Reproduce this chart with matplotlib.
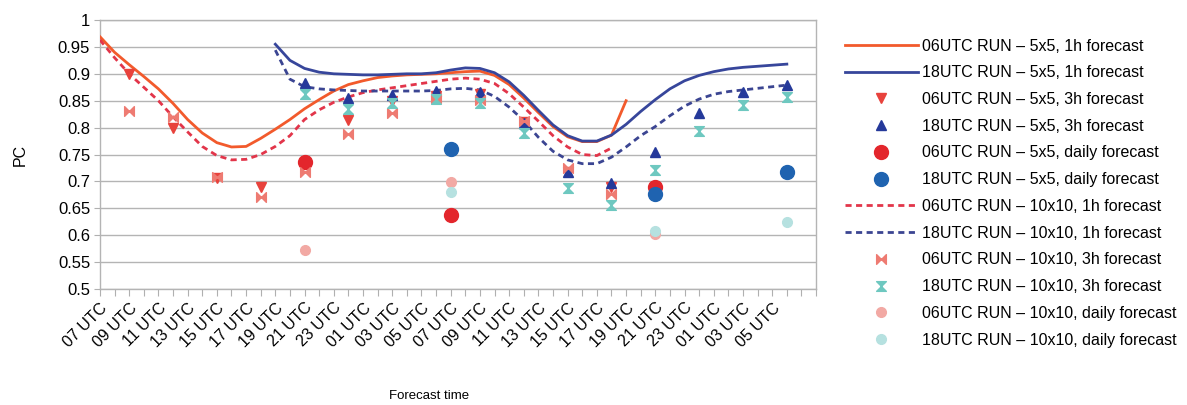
import matplotlib
matplotlib.use("Agg")
import matplotlib.pyplot as plt
from matplotlib.path import Path
import numpy as np

# Hourly forecast-time categories, starting at 07 UTC
n_cat = 48
hours = [(7 + i) % 24 for i in range(n_cat)]
tick_labels = [f"{h:02d} UTC" if i % 2 == 0 else "" for i, h in enumerate(hours)]

# 1h forecasts (PC per hour)
run06_5x5_1h_idx = list(range(0, 37))
run06_5x5_1h = [0.969, 0.940, 0.917, 0.895, 0.872, 0.845, 0.815, 0.790, 0.772, 0.764,
                0.765, 0.780, 0.797, 0.815, 0.835, 0.852, 0.868, 0.880, 0.887, 0.893,
                0.896, 0.898, 0.899, 0.900, 0.902, 0.904, 0.905, 0.897, 0.880, 0.855,
                0.828, 0.802, 0.783, 0.774, 0.774, 0.786, 0.850]

run18_5x5_1h_idx = list(range(12, 48))
run18_5x5_1h = [0.955, 0.925, 0.910, 0.903, 0.900, 0.899, 0.898, 0.898, 0.899, 0.900,
                0.900, 0.902, 0.907, 0.911, 0.910, 0.902, 0.885, 0.860, 0.832, 0.805,
                0.785, 0.775, 0.775, 0.786, 0.806, 0.830, 0.852, 0.872, 0.887, 0.897,
                0.904, 0.909, 0.912, 0.914, 0.916, 0.918]

run06_10x10_1h_idx = list(range(0, 36))
run06_10x10_1h = [0.963, 0.930, 0.900, 0.875, 0.850, 0.820, 0.792, 0.765, 0.748, 0.740,
                  0.741, 0.750, 0.765, 0.785, 0.815, 0.833, 0.847, 0.857, 0.865, 0.870,
                  0.874, 0.878, 0.882, 0.886, 0.890, 0.892, 0.890, 0.882, 0.863, 0.838,
                  0.812, 0.785, 0.764, 0.750, 0.748, 0.762]

run18_10x10_1h_idx = list(range(12, 48))
run18_10x10_1h = [0.944, 0.890, 0.876, 0.872, 0.870, 0.869, 0.868, 0.868, 0.868, 0.868,
                  0.868, 0.869, 0.872, 0.873, 0.870, 0.858, 0.838, 0.813, 0.782, 0.756,
                  0.740, 0.733, 0.733, 0.745, 0.764, 0.785, 0.802, 0.822, 0.840, 0.853,
                  0.862, 0.867, 0.870, 0.873, 0.876, 0.879]

# 3h forecasts
run06_3h_idx = [2, 5, 8, 11, 14, 17, 20, 23, 26, 29, 32, 35]
run06_5x5_3h = [0.900, 0.800, 0.706, 0.689, 0.735, 0.814, 0.850, 0.858, 0.862, 0.810, 0.718, 0.690]
run06_10x10_3h = [0.831, 0.820, 0.709, 0.671, 0.718, 0.788, 0.827, 0.855, 0.852, 0.812, 0.725, 0.677]

run18_3h_idx = [14, 17, 20, 23, 26, 29, 32, 35, 38, 41, 44, 47]
run18_5x5_3h = [0.882, 0.855, 0.861, 0.868, 0.867, 0.808, 0.717, 0.697, 0.755, 0.828, 0.867, 0.879]
run18_10x10_3h = [0.862, 0.834, 0.845, 0.853, 0.846, 0.790, 0.687, 0.656, 0.721, 0.793, 0.842, 0.856]

# Daily forecasts
run06_daily_idx = [14, 24, 38]
run06_5x5_daily = [0.737, 0.638, 0.689]
run06_10x10_daily = [0.572, 0.698, 0.603]

run18_daily_idx = [24, 38, 47]
run18_5x5_daily = [0.761, 0.676, 0.718]
run18_10x10_daily = [0.681, 0.607, 0.625]

# Custom markers: horizontal bow-tie and vertical hourglass
bowtie = Path([(-1, 1), (-1, -1), (0, 0), (-1, 1), (1, 1), (1, -1), (0, 0), (1, 1)],
              [Path.MOVETO, Path.LINETO, Path.LINETO, Path.CLOSEPOLY,
               Path.MOVETO, Path.LINETO, Path.LINETO, Path.CLOSEPOLY])
hourglass = Path([(-1, 1), (1, 1), (0, 0), (-1, 1), (-1, -1), (1, -1), (0, 0), (-1, -1)],
                 [Path.MOVETO, Path.LINETO, Path.LINETO, Path.CLOSEPOLY,
                  Path.MOVETO, Path.LINETO, Path.LINETO, Path.CLOSEPOLY])

plt.rcParams['font.family'] = ['Liberation Sans', 'DejaVu Sans']

fig = plt.figure(figsize=(11.87, 4.05), dpi=100)
ax = fig.add_axes([0.0842, 0.2864, 0.6033, 0.6642])

c_orange = '#f25a2c'
c_navy = '#37469b'
c_red_dash = '#e2354a'
c_navy_dash = '#3b4592'

ax.plot(run06_5x5_1h_idx, run06_5x5_1h, color=c_orange, lw=2.0, zorder=3,
        label='06UTC RUN – 5x5, 1h forecast')
ax.plot(run18_5x5_1h_idx, run18_5x5_1h, color=c_navy, lw=2.0, zorder=3,
        label='18UTC RUN – 5x5, 1h forecast')
ax.plot(run06_3h_idx, run06_5x5_3h, ls='none', marker='v', ms=7, color='#e8423c',
        zorder=4, label='06UTC RUN – 5x5, 3h forecast')
ax.plot(run18_3h_idx, run18_5x5_3h, ls='none', marker='^', ms=7, color='#25399a',
        zorder=4, label='18UTC RUN – 5x5, 3h forecast')
ax.plot(run06_daily_idx, run06_5x5_daily, ls='none', marker='o', ms=10, color='#e3262c',
        zorder=4, label='06UTC RUN – 5x5, daily forecast')
ax.plot(run18_daily_idx, run18_5x5_daily, ls='none', marker='o', ms=10, color='#1f63b0',
        zorder=4, label='18UTC RUN – 5x5, daily forecast')
ax.plot(run06_10x10_1h_idx, run06_10x10_1h, color=c_red_dash, lw=2.0, ls=(0, (2.2, 1.6)),
        zorder=3, label='06UTC RUN – 10x10, 1h forecast')
ax.plot(run18_10x10_1h_idx, run18_10x10_1h, color=c_navy_dash, lw=2.0, ls=(0, (2.2, 1.6)),
        zorder=3, label='18UTC RUN – 10x10, 1h forecast')
ax.plot(run06_3h_idx, run06_10x10_3h, ls='none', marker=bowtie, ms=7, color='#ee7b72',
        zorder=4, label='06UTC RUN – 10x10, 3h forecast')
ax.plot(run18_3h_idx, run18_10x10_3h, ls='none', marker=hourglass, ms=7, color='#6ec8c0',
        zorder=4, label='18UTC RUN – 10x10, 3h forecast')
ax.plot(run06_daily_idx, run06_10x10_daily, ls='none', marker='o', ms=7, color='#f2a9a4',
        zorder=4, label='06UTC RUN – 10x10, daily forecast')
ax.plot(run18_daily_idx, run18_10x10_daily, ls='none', marker='o', ms=7, color='#b6e1e0',
        zorder=4, label='18UTC RUN – 10x10, daily forecast')

ax.set_xlim(0, 49)
ax.set_ylim(0.5, 1.0)
ax.set_yticks(np.arange(0.5, 1.0001, 0.05))
ax.set_yticklabels([f"{v:g}" for v in np.round(np.arange(0.5, 1.0001, 0.05), 2)], fontsize=12)
ax.set_xticks(range(0, 50))
ax.set_xticklabels(tick_labels + ["", ""], rotation=45, ha='right', va='top',
                   rotation_mode='anchor', fontsize=11.5)
ax.tick_params(axis='x', length=5, color='#b0b0b0', pad=3)
ax.tick_params(axis='y', length=4, color='#b0b0b0', pad=3)

ax.grid(axis='y', color='#b4b4b4', lw=1.0)
ax.set_axisbelow(True)
for s in ax.spines.values():
    s.set_color('#b4b4b4')
    s.set_linewidth(1.0)

ax.set_ylabel('PC', fontsize=11.5, labelpad=22)
ax.set_xlabel('Forecast time', fontsize=9.5)
ax.xaxis.set_label_coords(0.4596, -0.375)

leg = ax.legend(loc='upper left', bbox_to_anchor=(1.031, 0.955), frameon=False, fontsize=11.5,
                handlelength=4.6, handletextpad=0.25, labelspacing=0.735, borderaxespad=0)

fig.savefig('out.png', dpi=100)
